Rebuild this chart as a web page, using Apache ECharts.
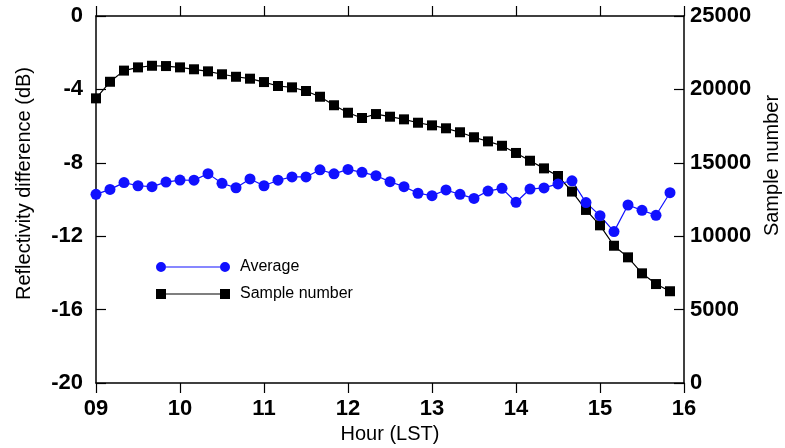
<!DOCTYPE html>
<html>
<head>
<meta charset="utf-8">
<script src="https://cdn.jsdelivr.net/npm/echarts@6/dist/echarts.min.js"></script>
<style>
  html, body { margin: 0; padding: 0; background: #fff; }
  #chart { width: 785px; height: 448px; }
</style>
</head>
<body>
<div id="chart"></div>
<script>
// 10-minute steps, 09:00 .. 16:00 (last slot has no data)
const times = [
  '09:00','09:10','09:20','09:30','09:40','09:50',
  '10:00','10:10','10:20','10:30','10:40','10:50',
  '11:00','11:10','11:20','11:30','11:40','11:50',
  '12:00','12:10','12:20','12:30','12:40','12:50',
  '13:00','13:10','13:20','13:30','13:40','13:50',
  '14:00','14:10','14:20','14:30','14:40','14:50',
  '15:00','15:10','15:20','15:30','15:40','15:50',
  '16:00'
]

// reflectivity difference average (dB)
const average = [
  -9.72, -9.45, -9.08, -9.25, -9.30, -9.05,
  -8.94, -8.95, -8.59, -9.12, -9.36, -8.88,
  -9.25, -8.95, -8.77, -8.77, -8.38, -8.60,
  -8.36, -8.52, -8.70, -9.03, -9.30, -9.66,
  -9.79, -9.48, -9.72, -9.94, -9.54, -9.39,
  -10.15, -9.43, -9.37, -9.15, -8.98, -10.17,
  -10.88, -11.75, -10.30, -10.59, -10.86, -9.63
]

// sample number
const samples = [
  19390, 20520, 21280, 21500, 21610, 21590,
  21500, 21370, 21230, 21030, 20860, 20730,
  20500, 20230, 20140, 19890, 19500, 18920,
  18410, 18050, 18320, 18140, 17960, 17730,
  17550, 17350, 17080, 16740, 16460, 16160,
  15670, 15140, 14620, 14100, 13040, 11790,
  10740, 9350, 8560, 7470, 6740, 6250
]

const leftTicks = { min: -20, max: 0, interval: 4 }
const rightTicks = { min: 0, max: 25000, interval: 5000 }

const chart = echarts.init(document.getElementById('chart'))

const font = 'Liberation Sans, Arial, sans-serif'
const axisLine = { show: true, lineStyle: { color: '#000', width: 1.5 } }
const tick = { show: true, inside: true, length: 10, lineStyle: { color: '#000', width: 1.2 } }

const circleIcon = 'path://M0,5 A5,5 0 1,1 10,5 A5,5 0 1,1 0,5 Z M10,4.4 L64,4.4 L64,5.6 L10,5.6 Z M64,5 A5,5 0 1,1 74,5 A5,5 0 1,1 64,5 Z'
const squareIcon = 'path://M0,0 L10,0 L10,10 L0,10 Z M10,4.4 L64,4.4 L64,5.6 L10,5.6 Z M64,0 L74,0 L74,10 L64,10 Z'

const option = {
  backgroundColor: '#fff',
  animation: false,
  textStyle: { fontFamily: font, color: '#000' },
  grid: { left: 96, right: 101, top: 16, bottom: 65, outerBoundsMode: 'none' },
  legend: {
    orient: 'vertical',
    left: 151,
    top: 254,
    itemWidth: 74,
    itemHeight: 10,
    itemGap: 11,
    textStyle: { fontFamily: font, fontSize: 16, color: '#000', padding: [0, 0, 0, 5] },
    data: [
      { name: 'Average', icon: circleIcon },
      { name: 'Sample number', icon: squareIcon }
    ]
  },
  xAxis: [
    {
      type: 'category',
      data: times,
      boundaryGap: false,
      position: 'bottom',
      axisLine: axisLine,
      axisTick: Object.assign({ interval: 5 }, tick),
      axisLabel: {
        interval: 5,
        margin: 15,
        fontSize: 22,
        fontWeight: 'bold',
        color: '#000',
        fontFamily: font,
        formatter: v => v.slice(0, 2)
      },
      splitLine: { show: false },
      name: 'Hour (LST)',
      nameLocation: 'middle',
      nameGap: 40,
      nameTextStyle: { fontSize: 20, fontFamily: font, color: '#000' }
    },
    {
      type: 'category',
      data: times,
      boundaryGap: false,
      position: 'top',
      axisLine: axisLine,
      axisTick: Object.assign({ interval: 5 }, tick),
      axisLabel: { show: false },
      splitLine: { show: false }
    }
  ],
  yAxis: [
    {
      type: 'value',
      position: 'left',
      min: leftTicks.min,
      max: leftTicks.max,
      interval: leftTicks.interval,
      axisLine: axisLine,
      axisTick: tick,
      axisLabel: { margin: 13, fontSize: 22, fontWeight: 'bold', color: '#000', fontFamily: font },
      splitLine: { show: false },
      name: 'Reflectivity difference (dB)',
      nameLocation: 'middle',
      nameRotate: 90,
      nameGap: 62,
      nameTextStyle: { fontSize: 20, fontFamily: font, color: '#000', padding: [0, 0, 0, 32] }
    },
    {
      type: 'value',
      position: 'right',
      min: rightTicks.min,
      max: rightTicks.max,
      interval: rightTicks.interval,
      axisLine: axisLine,
      axisTick: tick,
      axisLabel: {
        margin: 6, fontSize: 22, fontWeight: 'bold', color: '#000', fontFamily: font,
        formatter: v => String(v)
      },
      splitLine: { show: false },
      name: 'Sample number',
      nameLocation: 'middle',
      nameRotate: 90,
      nameGap: 78,
      nameTextStyle: { fontSize: 20, fontFamily: font, color: '#000', padding: [0, 0, 0, 68] }
    }
  ],
  series: [
    {
      name: 'Sample number',
      type: 'line',
      yAxisIndex: 1,
      data: samples,
      symbol: 'rect',
      symbolSize: 10,
      showAllSymbol: true,
      itemStyle: { color: '#000' },
      lineStyle: { color: '#000', width: 1.2 }
    },
    {
      name: 'Average',
      type: 'line',
      yAxisIndex: 0,
      data: average,
      symbol: 'circle',
      symbolSize: 11,
      showAllSymbol: true,
      itemStyle: { color: '#1010ff' },
      lineStyle: { color: '#1010ff', width: 1.2 }
    }
  ]
}

chart.setOption(option)
</script>
</body>
</html>
